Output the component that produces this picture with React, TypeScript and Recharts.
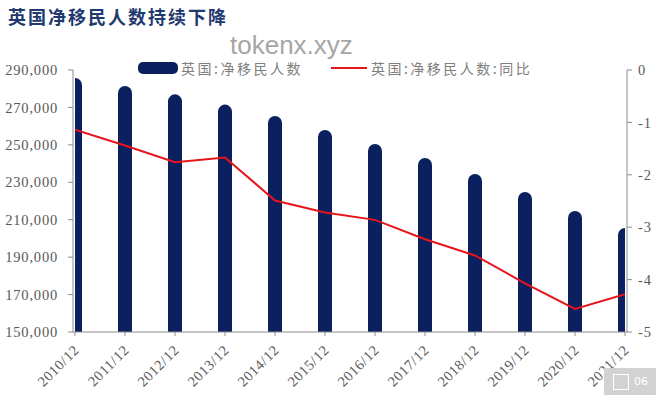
import React from 'react';
import { ComposedChart, Bar, Line, XAxis, YAxis } from 'recharts';

const categories = ['2010/12', '2011/12', '2012/12', '2013/12', '2014/12', '2015/12', '2016/12', '2017/12', '2018/12', '2019/12', '2020/12', '2021/12'];
const migrants = [285700, 281500, 277000, 271500, 265400, 257900, 250500, 243000, 234400, 224800, 214700, 205600];
const yoy = [-1.14, -1.44, -1.76, -1.67, -2.49, -2.72, -2.86, -3.23, -3.54, -4.07, -4.56, -4.28];
const leftTicks = [150000, 170000, 190000, 210000, 230000, 250000, 270000, 290000];
const rightTicks = [-5, -4, -3, -2, -1, 0];

const BAR_NAME = '英国:净移民人数';
const LINE_NAME = '英国:净移民人数:同比';

const data = categories.map((c, i) => ({ idx: i, name: c, migrants: migrants[i], yoy: yoy[i] }));

const AXIS = '#8c8c8c';
const LABEL = '#595959';
const NAVY = '#0a205f';
const RED = '#e8141b';
const SERIF = '"Liberation Serif", "Times New Roman", serif';

const XTick = ({ x, y, payload }: any) => (
  <text
    x={x + 5}
    y={y + 13}
    transform={`rotate(-45, ${x + 5}, ${y + 13})`}
    textAnchor="end"
    fill={LABEL}
    fontSize={14.5}
    fontFamily={SERIF}
    letterSpacing={0.6}
  >
    {categories[payload.value]}
  </text>
);

export default function App() {
  return (
    <div style={{ position: 'absolute', left: 0, top: 0, width: 660, height: 396, background: '#fff', overflow: 'hidden' }}>
      <div style={{ position: 'absolute', left: 8, top: 4, fontFamily: '"Noto Sans CJK SC", sans-serif', fontWeight: 700, fontSize: 18, color: '#1f3a6e', letterSpacing: 2, lineHeight: '24px' }}>
        英国净移民人数持续下降
      </div>
      <div style={{ position: 'absolute', left: 230, top: 30, fontFamily: '"Liberation Sans", Arial, sans-serif', fontSize: 26, color: '#a6a6a6' }}>
        tokenx.xyz
      </div>
      {/* legend */}
      <div style={{ position: 'absolute', left: 138, top: 58, display: 'flex', alignItems: 'center', fontFamily: '"Noto Sans CJK SC", sans-serif', fontSize: 14, color: '#808080', letterSpacing: 2.5, lineHeight: '20px' }}>
        <span style={{ display: 'inline-block', width: 40, height: 12, borderRadius: 5, background: NAVY, marginRight: 3 }} />
        <span>{BAR_NAME}</span>
        <span style={{ display: 'inline-block', width: 36, height: 2, background: RED, marginLeft: 28, marginRight: 4 }} />
        <span>{LINE_NAME}</span>
      </div>
      <ComposedChart width={660} height={396} data={data} margin={{ top: 70, right: 0, bottom: 0, left: 0 }}>
        <XAxis
          dataKey="idx"
          type="number"
          domain={[0, 11]}
          ticks={categories.map((_, i) => i)}
          interval={0}
          allowDataOverflow
          padding={{ left: 2, right: 2 }}
          axisLine={{ stroke: AXIS }}
          tickLine={{ stroke: AXIS }}
          tickSize={4}
          tick={<XTick />}
          height={64}
        />
        <YAxis
          yAxisId="left"
          domain={[150000, 290000]}
          ticks={leftTicks}
          width={73}
          axisLine={{ stroke: AXIS }}
          tickLine={{ stroke: AXIS }}
          tickSize={5}
          tickMargin={10}
          tickFormatter={(v: number) => v.toLocaleString('en-US')}
          tick={{ fill: LABEL, fontSize: 14.5, fontFamily: SERIF, letterSpacing: 0.8 }}
        />
        <YAxis
          yAxisId="right"
          orientation="right"
          domain={[-5, 0]}
          ticks={rightTicks}
          width={33}
          axisLine={{ stroke: AXIS }}
          tickLine={{ stroke: AXIS }}
          tickSize={5}
          tickMargin={6}
          tick={{ fill: LABEL, fontSize: 14.5, fontFamily: SERIF, letterSpacing: 0.8 }}
        />
        <Bar yAxisId="left" dataKey="migrants" name={BAR_NAME} fill={NAVY} barSize={14} radius={[7, 7, 0, 0]} isAnimationActive={false} />
        <Line yAxisId="right" dataKey="yoy" name={LINE_NAME} stroke={RED} strokeWidth={2} dot={false} type="linear" isAnimationActive={false} />
      </ComposedChart>
      <div style={{ position: 'absolute', left: 604, top: 368, width: 52, height: 27, background: '#d2d2d2', color: '#fff', fontSize: 11, fontFamily: '"DejaVu Sans", sans-serif', display: 'flex', alignItems: 'center', justifyContent: 'flex-end', paddingRight: 8, boxSizing: 'border-box' }}>
        <span style={{ display: 'inline-block', width: 14, height: 14, border: '1px solid #fff', marginRight: 5 }} />
        06
      </div>
    </div>
  );
}
